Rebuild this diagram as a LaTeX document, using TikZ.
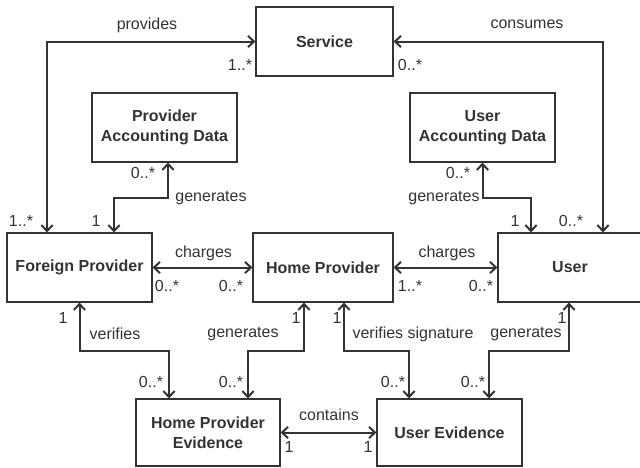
\documentclass[tikz,border=0pt]{standalone}
\usepackage{fontspec}
\setmainfont{Liberation Sans}
\usetikzlibrary{arrows.meta}
\definecolor{ink}{HTML}{333333}
\begin{document}
\begin{tikzpicture}[x=0.75pt,y=-0.75pt,
  box/.style={draw=ink,line width=0.85pt,rectangle,inner sep=0pt,align=center,
    font=\fontsize{12}{15}\selectfont\bfseries,text=ink},
  lbl/.style={inner sep=0pt,font=\fontsize{12}{14}\selectfont,text=ink},
  conn/.style={draw=ink,line width=1.5pt,{Straight Barb[length=4.5pt,width=8.5pt]}-{Straight Barb[length=4.5pt,width=8.5pt]}}]
\useasboundingbox (0,0) rectangle (640,468);
% boxes
\node[box,minimum width=102.75pt,minimum height=51.75pt] (Service) at (324.5,41.5) {Service};
\node[box,minimum width=108.75pt,minimum height=51.75pt] (PAD) at (164.5,127.5) {Provider\\Accounting Data};
\node[box,minimum width=108.75pt,minimum height=51.75pt] (UAD) at (482.5,127.5) {User\\Accounting Data};
\node[box,minimum width=108.75pt,minimum height=51.75pt] (FP) at (79.5,267.5) {Foreign Provider};
\node[box,minimum width=105pt,minimum height=51.75pt] (HP) at (323,267.5) {Home Provider};
\node[box,minimum width=108pt,minimum height=51.75pt] (User) at (570,267.5) {User};
\node[box,minimum width=108pt,minimum height=50.25pt] (HPE) at (208,432.5) {Home Provider\\Evidence};
\node[box,minimum width=108.75pt,minimum height=50.25pt] (UE) at (449.5,432.5) {User Evidence};
% bend coordinates
\coordinate (p1) at (47,41.5);
\coordinate (c1) at (603,41.5);
\coordinate (g1) at (168,198);
\coordinate (g2) at (114,198);
\coordinate (u1) at (482.5,198);
\coordinate (u2) at (531,198);
\coordinate (v1) at (79.5,351);
\coordinate (v2) at (169,351);
\coordinate (h1) at (304,351);
\coordinate (h2) at (248,351);
\coordinate (s1) at (344,351);
\coordinate (s2) at (409,351);
\coordinate (e1) at (569,351);
\coordinate (e2) at (489,351);
% connectors
\draw[conn] (Service.west) -- (p1) -- (FP.north -| p1);
\draw[conn] (Service.east) -- (c1) -- (User.north -| c1);
\draw[conn] (PAD.south -| g1) -- (g1) -- (g2) -- (FP.north -| g2);
\draw[conn] (UAD.south) -- (u1) -- (u2) -- (User.north -| u2);
\draw[conn] (FP.east) -- (HP.west);
\draw[conn] (HP.east) -- (User.west);
\draw[conn] (FP.south) -- (v1) -- (v2) -- (HPE.north -| v2);
\draw[conn] (HP.south -| h1) -- (h1) -- (h2) -- (HPE.north -| h2);
\draw[conn] (HP.south -| s1) -- (s1) -- (s2) -- (UE.north -| s2);
\draw[conn] (User.south -| e1) -- (e1) -- (e2) -- (UE.north -| e2);
\draw[conn] (HPE.east) -- (UE.west);
% labels
\node[lbl] (t1) at (147,25) {provides};
\node[lbl] (t2) at (240,65) {1..*};
\node[lbl] (t3) at (21,221) {1..*};
\node[lbl] (t4) at (527,24) {consumes};
\node[lbl] (t5) at (410,65) {0..*};
\node[lbl] (t6) at (571,221) {0..*};
\node[lbl] (t7) at (143,173) {0..*};
\node[lbl] (t8) at (211,198) {generates};
\node[lbl] (t9) at (96,221) {1};
\node[lbl] (t10) at (458,173) {0..*};
\node[lbl] (t11) at (444,198) {generates};
\node[lbl] (t12) at (515,221) {1};
\node[lbl] (t13) at (203.5,253) {charges};
\node[lbl] (t14) at (167,286) {0..*};
\node[lbl] (t15) at (231,286) {0..*};
\node[lbl] (t16) at (447,253) {charges};
\node[lbl] (t17) at (410,286) {1..*};
\node[lbl] (t18) at (481,286) {0..*};
\node[lbl] (t19) at (63,318) {1};
\node[lbl] (t20) at (115,334) {verifies};
\node[lbl] (t21) at (151,382) {0..*};
\node[lbl] (t22) at (296,318) {1};
\node[lbl] (t23) at (243,334) {generates};
\node[lbl] (t24) at (231,382) {0..*};
\node[lbl] (t25) at (337,318) {1};
\node[lbl] (t26) at (413,334) {verifies signature};
\node[lbl] (t27) at (393,382) {0..*};
\node[lbl] (t28) at (562,318) {1};
\node[lbl] (t29) at (526,334) {generates};
\node[lbl] (t30) at (473,382) {0..*};
\node[lbl] (t31) at (329,415) {contains};
\node[lbl] (t32) at (289,447) {1};
\node[lbl] (t33) at (368,447) {1};
\end{tikzpicture}
\end{document}
